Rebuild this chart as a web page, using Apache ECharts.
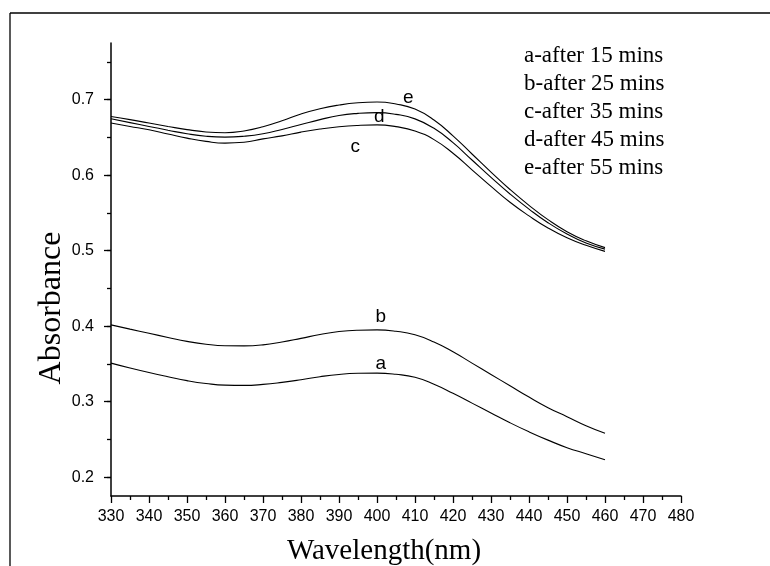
<!DOCTYPE html>
<html>
<head>
<meta charset="utf-8">
<script src="https://cdn.jsdelivr.net/npm/echarts@6/dist/echarts.min.js"></script>
<style>html,body{margin:0;padding:0;background:#fff}#c{width:770px;height:566px}</style>
</head>
<body>
<div id="c"></div>
<script>
const wavelengths = [330,335,340,345,350,355,360,365,370,375,380,385,390,395,400,405,410,415,420,425,430,435,440,445,450,455,460];
const seriesA = [0.351,0.3445,0.3385,0.333,0.3278,0.324,0.3218,0.3215,0.3228,0.3255,0.329,0.333,0.336,0.3375,0.3378,0.3362,0.3322,0.323,0.311,0.298,0.285,0.272,0.260,0.249,0.239,0.231,0.223];
const seriesB = [0.4017,0.396,0.3905,0.385,0.3798,0.376,0.374,0.3738,0.3752,0.379,0.3838,0.3888,0.3928,0.3946,0.395,0.3932,0.3885,0.379,0.366,0.351,0.336,0.321,0.306,0.292,0.280,0.268,0.258];
const seriesC = [0.669,0.6645,0.660,0.6545,0.649,0.6447,0.6424,0.6435,0.648,0.652,0.657,0.661,0.664,0.6658,0.6665,0.6642,0.6585,0.647,0.629,0.607,0.585,0.564,0.546,0.530,0.517,0.507,0.499];
const seriesD = [0.6746,0.6695,0.6645,0.6595,0.6548,0.6515,0.6503,0.6515,0.6548,0.6605,0.667,0.6735,0.679,0.6818,0.6828,0.6805,0.6745,0.662,0.643,0.620,0.597,0.575,0.555,0.537,0.522,0.510,0.502];
const seriesE = [0.6776,0.6735,0.669,0.6645,0.6603,0.6572,0.6562,0.6585,0.664,0.672,0.681,0.688,0.6928,0.6958,0.6968,0.6942,0.6875,0.673,0.652,0.628,0.604,0.581,0.560,0.541,0.525,0.513,0.504];
const curveNames = ['a','b','c','d','e'];
const curveLabelAt = [[401,0.350],[401,0.4123],[394.3,0.6375],[400.6,0.677],[408.2,0.7024]];
const legendLines = ['a-after 15 mins','b-after 25 mins','c-after 35 mins','d-after 45 mins','e-after 55 mins'];
const yMajor = [0.2,0.3,0.4,0.5,0.6,0.7];
const yMinor = [0.2,0.25,0.3,0.35,0.4,0.45,0.5,0.55,0.6,0.65,0.7,0.75];

const all = [seriesA,seriesB,seriesC,seriesD,seriesE];
const chart = echarts.init(document.getElementById('c'), null, {renderer:'canvas'});
const tickFont = {fontFamily:'Liberation Sans, Arial', fontSize:16, color:'#000'};
const legendGraphics = legendLines.map((t,i)=>({
  type:'text', left:524, top:44+i*28,
  style:{text:t, fill:'#000', font:'23px "Liberation Serif", "Times New Roman", serif'}
}));
const option = {
  animation:false,
  backgroundColor:'#fff',
  grid:{left:111, right:89, top:43, bottom:70},
  xAxis:[{
    type:'value', min:330, max:480, interval:10,
    axisLine:{show:true, onZero:false, lineStyle:{color:'#000', width:1.5}},
    axisTick:{show:true, length:7, lineStyle:{color:'#000', width:1.3}},
    minorTick:{show:true, splitNumber:2, length:4, lineStyle:{color:'#000', width:1.3}},
    axisLabel:Object.assign({margin:13}, tickFont),
    splitLine:{show:false}
  }],
  yAxis:[{
    type:'value', min:0.175, max:0.775,
    axisLine:{show:true, onZero:false, lineStyle:{color:'#000', width:1.5}},
    axisTick:{show:true, length:7, customValues:yMajor, lineStyle:{color:'#000', width:1.3}},
    axisLabel:Object.assign({margin:17, customValues:yMajor, formatter:v=>v.toFixed(1)}, tickFont),
    splitLine:{show:false}
  },{
    type:'value', min:0.175, max:0.775, position:'left',
    axisLine:{show:false},
    axisTick:{show:true, length:4, customValues:yMinor, lineStyle:{color:'#000', width:1.3}},
    axisLabel:{show:false},
    splitLine:{show:false}
  }],
  series: all.map((arr,i)=>({
    type:'line', name:curveNames[i], yAxisIndex:0,
    data: wavelengths.map((w,j)=>[w,arr[j]]),
    smooth:0.5, showSymbol:false, symbol:'none',
    lineStyle:{color:'#000', width:1.1},
    markPoint:{
      symbol:'circle', symbolSize:1, itemStyle:{color:'rgba(0,0,0,0)'},
      label:{show:true, position:'inside', formatter:curveNames[i], color:'#000', fontSize:19, fontFamily:'Liberation Sans, Arial'},
      data:[{coord:curveLabelAt[i]}]
    }
  })),
  graphic:[
    {type:'line', shape:{x1:10,y1:13,x2:770,y2:13}, style:{stroke:'#000', lineWidth:1.3}},
    {type:'line', shape:{x1:10,y1:13,x2:10,y2:566}, style:{stroke:'#000', lineWidth:1.3}},
    {type:'text', x:68, y:308, rotation:Math.PI/2, style:{text:'Absorbance', fill:'#000', font:'32px "Liberation Serif", "Times New Roman", serif', align:'center', verticalAlign:'bottom'}},
    {type:'text', x:384, y:551, style:{text:'Wavelength(nm)', fill:'#000', font:'29px "Liberation Serif", "Times New Roman", serif', align:'center', verticalAlign:'middle'}}
  ].concat(legendGraphics)
};
chart.setOption(option);
</script>
</body>
</html>
